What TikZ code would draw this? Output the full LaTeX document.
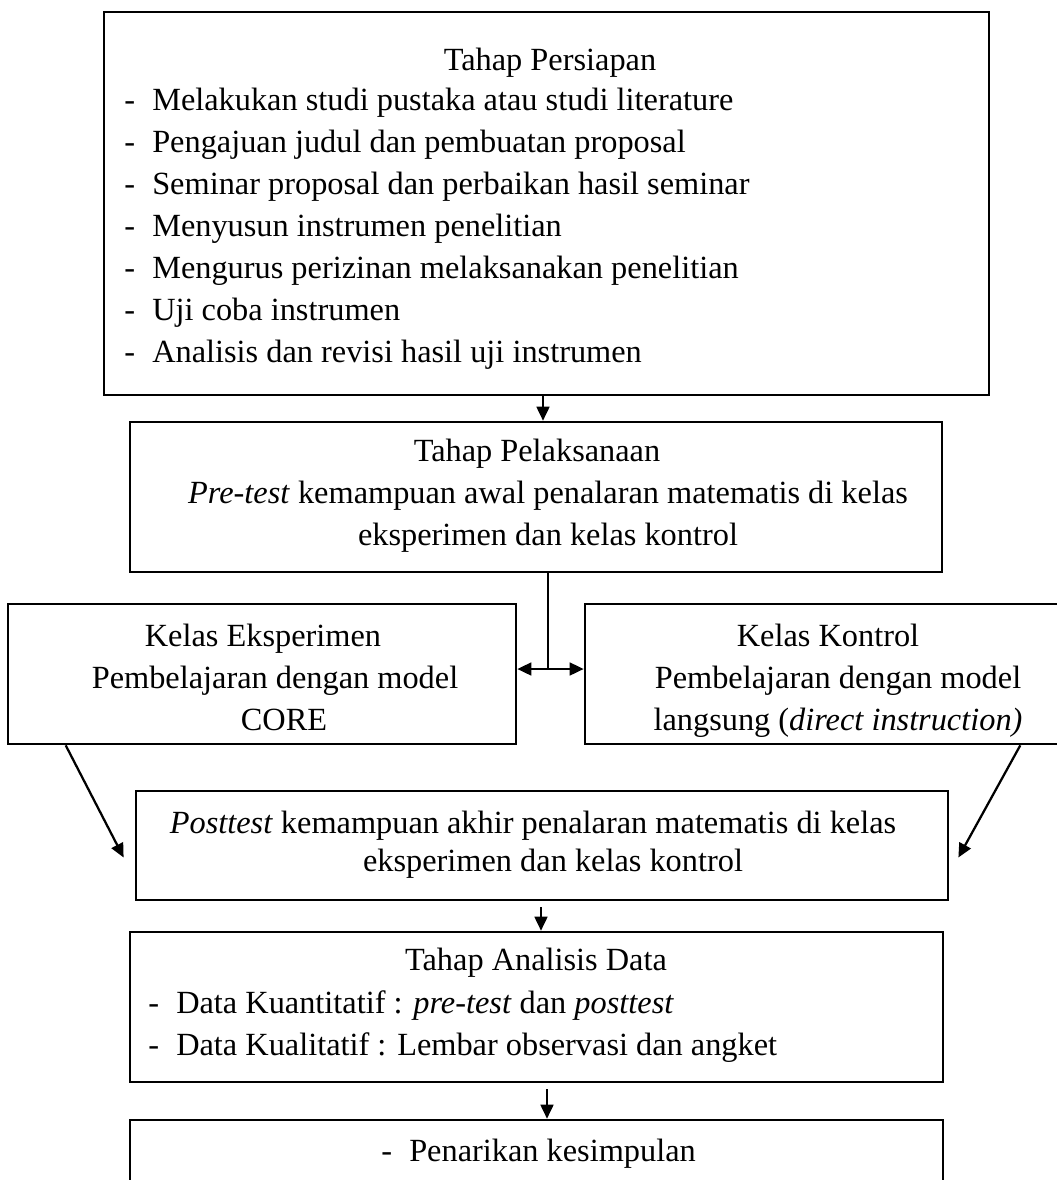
\documentclass[tikz,border=0pt]{standalone}
\usepackage{fontspec}
\setmainfont{Liberation Serif}
\usetikzlibrary{arrows.meta}
\newcommand{\butir}[1]{\makebox[0.7cm][l]{-}#1}

\begin{document}
\begin{tikzpicture}[x=0.025cm,y=-0.025cm,
	kotak/.style={draw,line width=1.8pt,inner sep=0pt},
	teks/.style={inner sep=0pt,anchor=base,font=\fontsize{23}{28}\selectfont},
	daftar/.style={teks,anchor=base west},
	panah/.style={line width=1.6pt,-{Triangle[width=0.32cm,length=0.35cm]}},
	panahdua/.style={line width=1.6pt,{Triangle[width=0.32cm,length=0.35cm]}-{Triangle[width=0.32cm,length=0.35cm]}}]
			\useasboundingbox (0,0) rectangle (1057,1180);
			% kotak
			\node[kotak,minimum width=22.125cm,minimum height=9.575cm] (persiapan) at (546.5,203.5) {};
			\node[kotak,minimum width=20.3cm,minimum height=3.75cm] (pelaksanaan) at (536,497) {};
			\node[kotak,minimum width=12.7cm,minimum height=3.5cm] (eksperimen) at (262,674) {};
			\node[kotak,minimum width=12.5cm,minimum height=3.5cm] (kontrol) at (835,674) {};
			\node[kotak,minimum width=20.3cm,minimum height=2.725cm] (posttest) at (542,845.5) {};
			\node[kotak,minimum width=20.325cm,minimum height=3.75cm] (analisis) at (536.5,1007) {};
			\node[kotak,minimum width=20.325cm,minimum height=2.5cm] (kesimpulan) at (536.5,1170) {};
			% teks
			\node[teks] (judul1) at (550,70) {Tahap Persiapan};
			\foreach \isi [count=\i] in {Melakukan studi pustaka atau studi literature,
				Pengajuan judul dan pembuatan proposal,
				Seminar proposal dan perbaikan hasil seminar,
				Menyusun instrumen penelitian,
				Mengurus perizinan melaksanakan penelitian,
				Uji coba instrumen,
				Analisis dan revisi hasil uji instrumen}
				\node[daftar] (p\i) at (124,68+42*\i) {\butir{\isi}};
			\node[teks] (judul2) at (537,461) {Tahap Pelaksanaan};
			\node[teks] (pre1) at (548,503) {\textit{Pre-test} kemampuan awal penalaran matematis di kelas};
			\node[teks] (pre2) at (548,545) {eksperimen dan kelas kontrol};
			\node[teks] (eks1) at (263,646) {Kelas Eksperimen};
			\node[teks] (eks2) at (275,688) {Pembelajaran dengan model};
			\node[teks] (eks3) at (284,730) {CORE};
			\node[teks] (kon1) at (828,646) {Kelas Kontrol};
			\node[teks] (kon2) at (838,688) {Pembelajaran dengan model};
			\node[teks] (kon3) at (838,730) {langsung (\textit{direct instruction)}};
			\node[teks] (post1) at (533,833) {\textit{Posttest} kemampuan akhir penalaran matematis di kelas};
			\node[teks] (post2) at (553,871) {eksperimen dan kelas kontrol};
			\node[teks] (judul3) at (536,970) {Tahap Analisis Data};
			\node[daftar] (a1) at (148,1013) {\butir{Data Kuantitatif : \textit{pre-test} dan \textit{posttest}}};
			\node[daftar] (a2) at (148,1055) {\butir{Data Kualitatif : Lembar observasi dan angket}};
			\node[daftar] (k1) at (381,1161) {\butir{Penarikan kesimpulan}};
			% panah
			\coordinate (cabang) at (548,669);
			\draw[panah] (persiapan.south -| 543,0) -- (pelaksanaan.north -| 543,0);
			\draw[line width=1.6pt] (pelaksanaan.south -| cabang) -- (cabang);
			\draw[panahdua] (eksperimen.east |- cabang) -- (kontrol.west |- cabang);
			\draw[panah] ([xshift=1.475cm]eksperimen.south west) -- ([xshift=-0.275cm,yshift=-0.3cm]posttest.west);
			\draw[panah] ([xshift=-1.65cm]kontrol.south east) -- ([xshift=0.225cm,yshift=-0.3cm]posttest.east);
			\draw[panah,shorten <=0.15cm] (posttest.south -| 541,0) -- (analisis.north -| 541,0);
			\draw[panah,shorten <=0.15cm] (analisis.south -| 547,0) -- (kesimpulan.north -| 547,0);
		\end{tikzpicture}
\end{document}
